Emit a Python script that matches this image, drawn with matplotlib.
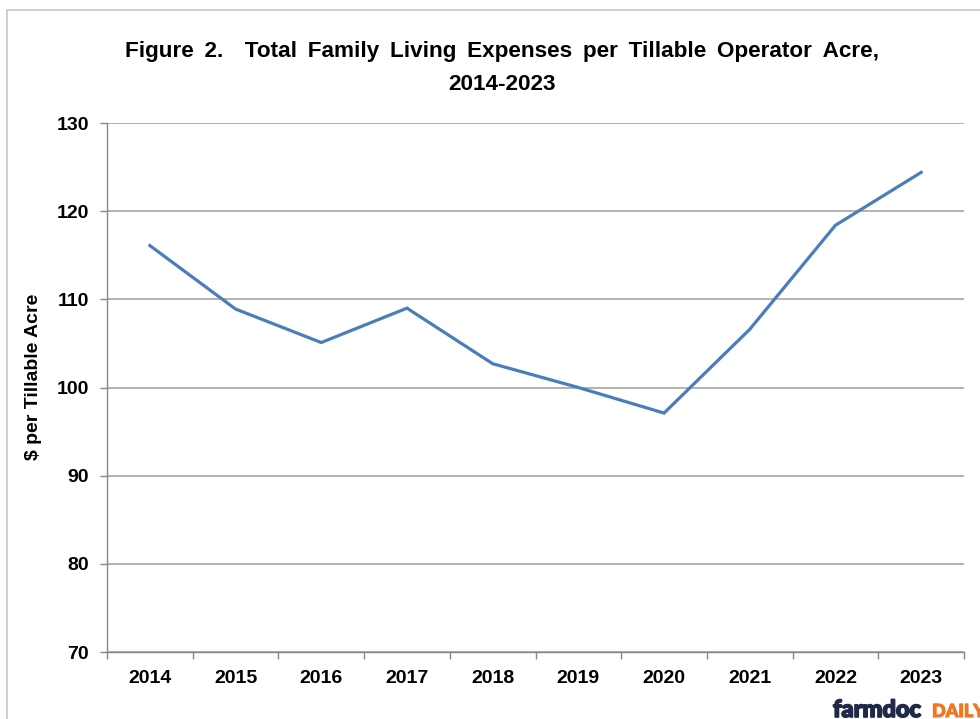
import numpy as np
import matplotlib.pyplot as plt
import matplotlib.patheffects as pe
from matplotlib.patches import Rectangle

# data
years = ["2014", "2015", "2016", "2017", "2018", "2019", "2020", "2021", "2022", "2023"]
expense = [116.1, 108.9, 105.1, 109.0, 102.7, 100.0, 97.1, 106.6, 118.4, 124.4]
y_ticks = [70, 80, 90, 100, 110, 120, 130]

plt.rcParams['font.family'] = ['Liberation Sans', 'DejaVu Sans']

W, H = 980, 719
fig = plt.figure(figsize=(W / 100, H / 100), dpi=100)

# outer chart frame
fig.patches.append(Rectangle((7 / W, -0.05), 1.1, (H - 10) / H + 0.05, transform=fig.transFigure,
                             fill=False, edgecolor='#c8c8c8', linewidth=1.2))

ax = fig.add_axes([107 / W, (H - 652) / H, (964 - 107) / W, (652 - 123) / H])
x = np.arange(len(years))
ax.plot(x, expense, color='#4a7ebb', linewidth=2.3, solid_joinstyle='miter')

ax.set_xlim(-0.5, len(years) - 0.5)
ax.set_ylim(70, 130)
ax.set_yticks(y_ticks)
ax.set_xticks(x)
ax.set_xticklabels(years)
ax.set_xticks(np.arange(-0.5, len(years)), minor=True)

for s in ['top', 'right']:
    ax.spines[s].set_visible(False)
for s in ['left', 'bottom']:
    ax.spines[s].set_color('#888888')
    ax.spines[s].set_linewidth(1.0)

ax.grid(axis='y', color='#a6a6a6', linewidth=1.2)
ax.set_axisbelow(True)
ax.tick_params(axis='y', length=5, width=1, color='#888888', pad=8, labelsize=14)
ax.tick_params(axis='x', which='major', length=0, pad=13, labelsize=14)
ax.tick_params(axis='x', which='minor', length=5, width=1, color='#888888')
for lab in ax.get_xticklabels() + ax.get_yticklabels():
    lab.set_fontweight('bold')

fig.text(33 / W, 1 - 377 / H, "$ per Tillable Acre", rotation=90, ha='center', va='center',
         fontsize=14, fontweight='bold')

# title, words spread a little wider as in the original
line1 = "Figure 2.  Total Family Living Expenses per Tillable Operator Acre,".replace(" ", " \u2009")
fig.text(502 / W, 1 - 68 / H, line1 + "\n2014-2023",
         ha='center', va='center', fontsize=16.2, fontweight='bold', linespacing=1.78)

# logo
fig.text(833 / W, 1 - 717 / H, "farmdoc", ha='left', va='baseline', fontsize=17,
         fontweight='black', color='#1f2a48', family=['Lato', 'DejaVu Sans'],
         path_effects=[pe.withStroke(linewidth=1.2, foreground='#1f2a48')])
fig.text(932 / W, 1 - 717 / H, "DAILY", ha='left', va='baseline', fontsize=13,
         fontweight='black', color='#ef7622', family=['Lato', 'DejaVu Sans'],
         path_effects=[pe.withStroke(linewidth=0.8, foreground='#ef7622')])

fig.savefig('out.png', dpi=100)
